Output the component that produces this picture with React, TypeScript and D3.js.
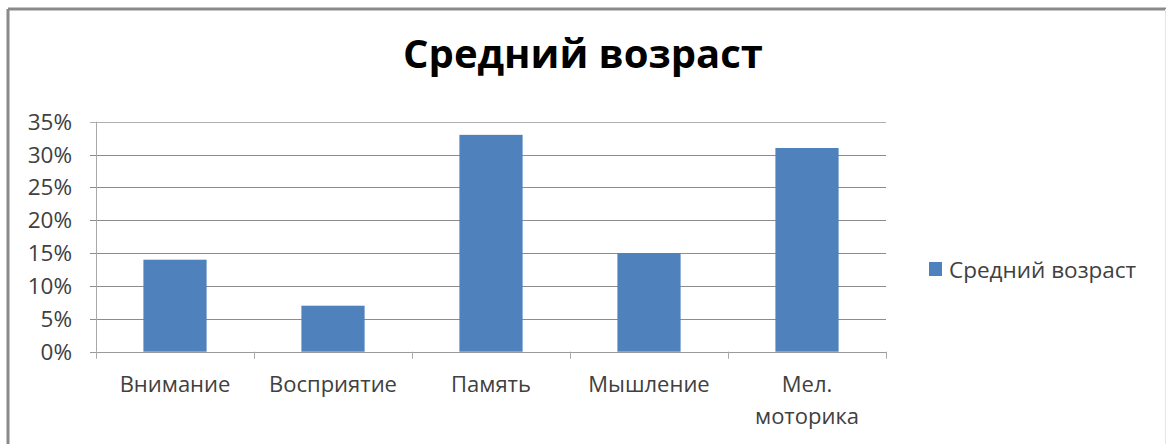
import React from "react";
import * as d3 from "d3";

const categories = ["Внимание", "Восприятие", "Память", "Мышление", "Мел.\nмоторика"];
const values = [14, 7, 33, 15, 31];
const yTicks = [0, 5, 10, 15, 20, 25, 30, 35];
const seriesName = "Средний возраст";
const title = "Средний возраст";

const W = 1167;
const H = 444;
const M = { left: 96, right: 886, top: 121.7, bottom: 351.7 };
const FONT = "'Open Sans', 'DejaVu Sans', sans-serif";
const TXT = "#404040";
const BAR = "#4f81bd";

export default function App() {
  const x = d3
    .scaleBand<string>()
    .domain(categories)
    .range([M.left, M.right])
    .paddingInner(0.6)
    .paddingOuter(0.3);
  const y = d3.scaleLinear().domain([0, 35]).range([M.bottom, M.top]);
  const step = x.step();
  const bandStarts = categories.map((c) => (x(c) as number) - step * 0.3);

  return (
    <svg
      width={W}
      height={H}
      style={{ position: "absolute", left: 0, top: 0, background: "#fff" }}
    >
      {/* frame */}
      <line x1={8} y1={9} x2={8} y2={H} stroke="#8a8a8a" strokeWidth={3} />
      <line x1={8} y1={9} x2={1166} y2={9} stroke="#8a8a8a" strokeWidth={3} />
      <line x1={1165.5} y1={9} x2={1165.5} y2={H} stroke="#e6e6e6" strokeWidth={1} />

      <text
        x={583}
        y={68}
        textAnchor="middle"
        fontFamily={FONT}
        fontWeight="bold"
        fontSize={40}
        fill="#000"
      >
        {title}
      </text>

      {/* gridlines */}
      {yTicks.map((t) => (
        <line
          key={"g" + t}
          x1={M.left - 6}
          x2={M.right}
          y1={Math.round(y(t)) + 0.5}
          y2={Math.round(y(t)) + 0.5}
          stroke={t === 0 ? "#9a9a9a" : t === 35 ? "#b0b0b0" : "#8c8c8c"}
          strokeWidth={1}
        />
      ))}
      {/* y axis */}
      <line x1={M.left + 0.5} x2={M.left + 0.5} y1={M.top} y2={M.bottom} stroke="#a8a8a8" />
      {yTicks.map((t) => (
        <text
          key={"yl" + t}
          x={72}
          y={y(t) + 8}
          textAnchor="end"
          fontFamily={FONT}
          fontSize={22.5}
          fill={TXT}
        >
          {t + "%"}
        </text>
      ))}

      {/* category ticks */}
      {[...bandStarts, M.right].map((bx, i) => (
        <line
          key={"ct" + i}
          x1={Math.round(bx) + 0.5}
          x2={Math.round(bx) + 0.5}
          y1={M.bottom}
          y2={M.bottom + 7}
          stroke="#a8a8a8"
        />
      ))}

      {/* bars */}
      {categories.map((c, i) => (
        <rect
          key={"b" + c}
          x={x(c)}
          y={y(values[i])}
          width={x.bandwidth()}
          height={y(0) - y(values[i])}
          fill={BAR}
        />
      ))}

      {/* category labels */}
      {categories.map((c) => {
        const cx = (x(c) as number) + x.bandwidth() / 2;
        const lines = c.split("\n");
        return (
          <text
            key={"cl" + c}
            x={cx}
            y={392}
            textAnchor="middle"
            fontFamily={FONT}
            fontSize={22}
            fill={TXT}
          >
            {lines.map((l, j) => (
              <tspan key={j} x={cx} dy={j === 0 ? 0 : 32}>
                {l}
              </tspan>
            ))}
          </text>
        );
      })}

      {/* legend */}
      <rect x={929} y={262} width={13} height={14} fill={BAR} />
      <text x={949} y={278} fontFamily={FONT} fontSize={22.5} fill={TXT}>
        {seriesName}
      </text>
    </svg>
  );
}
